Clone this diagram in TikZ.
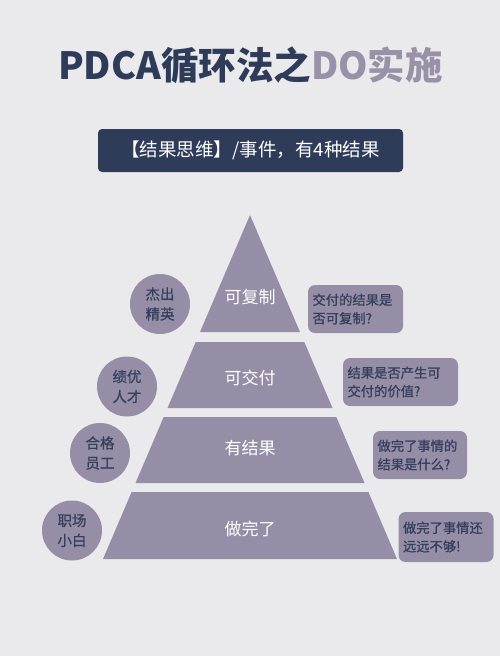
\documentclass[tikz,border=0pt]{standalone}
\usepackage{fontspec}
\setmainfont{Noto Sans CJK SC}
\newfontfamily\medfont{Noto Sans CJK SC}[FakeBold=0.8]
\definecolor{bgc}{HTML}{EAEAEC}
\definecolor{navy}{HTML}{2E3C5A}
\definecolor{lav}{HTML}{968EA7}
\definecolor{lavtxt}{HTML}{9891A8}
\definecolor{txt}{HTML}{353F5E}
\tikzset{
  tier/.style={fill=lav, draw=none},
  tierlabel/.style={text=white, font=\fontsize{17}{20}\selectfont, inner sep=0pt},
  badge/.style={circle, fill=lav, minimum size=60pt, inner sep=0pt, text=txt, align=center,
    font=\medfont\fontsize{14.5}{20}\selectfont},
  qbox/.style={rounded corners=7pt, fill=lav, inner xsep=4.5pt, inner ysep=0pt, text=txt, align=left,
    font=\medfont\fontsize{13.3}{18.5}\selectfont},
}
\begin{document}
\begin{tikzpicture}[x=1pt,y=-1pt]
\fill[bgc] (0,0) rectangle (500,656);
\useasboundingbox (0,0) rectangle (500,656);
% title
\node[inner sep=0pt, font=\bfseries\fontsize{37.5}{40}\selectfont] (title) at (250.5,65)
  {\textcolor{navy}{PDCA循环法之}\textcolor{lavtxt}{DO实施}};
% subtitle bar
\node[fill=navy, rounded corners=4pt, minimum width=305pt, minimum height=43pt, inner sep=0pt,
  text=white, font=\fontsize{18.5}{20}\selectfont] (sub) at (250.5,150.5) {【结果思维】/事件，有4种结果};
% pyramid tiers
\fill[tier] (250,215) -- (300,332) -- (200,332) -- cycle;
\fill[tier] (195.7,342) -- (304.3,342) -- (332.5,408) -- (167.5,408) -- cycle;
\fill[tier] (163.7,417) -- (336.3,417) -- (364.5,483) -- (135.5,483) -- cycle;
\fill[tier] (131.6,492) -- (368.4,492) -- (397,559) -- (103,559) -- cycle;
\node[tierlabel] (t1) at (250,297) {可复制};
\node[tierlabel] (t2) at (250,378) {可交付};
\node[tierlabel] (t3) at (250,448) {有结果};
\node[tierlabel] (t4) at (250,529) {做完了};
% circles
\node[badge] (c1) at (160,304) {杰出\\精英};
\node[badge] (c2) at (127,386.5) {绩优\\人才};
\node[badge] (c3) at (100,453) {合格\\员工};
\node[badge] (c4) at (72,530.5) {职场\\小白};
% question boxes
\node[qbox, text width=86pt, minimum height=48pt] (b1) at (355.5,309) {交付的结果是\\否可复制?};
\node[qbox, text width=106pt, minimum height=48pt] (b2) at (400.5,382) {结果是否产生可\\交付的价值?};
\node[qbox, text width=85pt, minimum height=48pt] (b3) at (420,455) {做完了事情的\\结果是什么?};
\node[qbox, text width=86pt, minimum height=50pt] (b4) at (446,537) {做完了事情还\\远远不够!};
\end{tikzpicture}
\end{document}
